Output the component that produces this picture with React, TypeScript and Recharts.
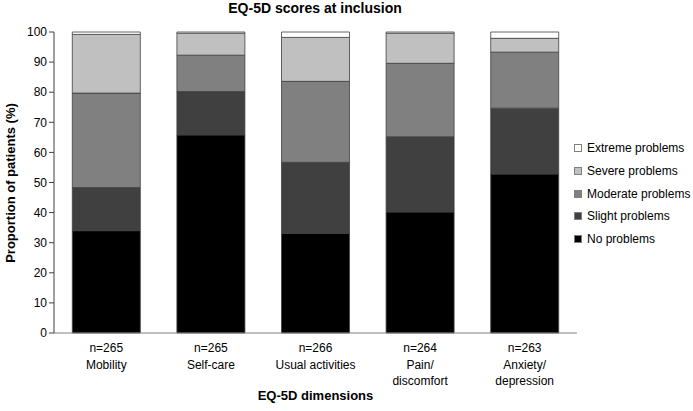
import React from "react";
import { BarChart, Bar, XAxis, YAxis } from "recharts";

const dimensions = ["Mobility", "Self-care", "Usual activities", "Pain/|discomfort", "Anxiety/|depression"];
const sampleSizes = [265, 265, 266, 264, 263];

const noProblems = [34.0, 65.8, 33.1, 40.2, 52.8];
const slightProblems = [14.3, 14.4, 23.6, 25.0, 21.9];
const moderateProblems = [31.4, 12.1, 26.9, 24.4, 18.6];
const severeProblems = [19.5, 7.3, 14.6, 10.0, 4.6];
const extremeProblems = [0.8, 0.4, 1.8, 0.4, 2.1];

const yTicks = [0, 10, 20, 30, 40, 50, 60, 70, 80, 90, 100];

const series = [
  { key: "none", name: "No problems", values: noProblems, color: "#000000" },
  { key: "slight", name: "Slight problems", values: slightProblems, color: "#404040" },
  { key: "moderate", name: "Moderate problems", values: moderateProblems, color: "#808080" },
  { key: "severe", name: "Severe problems", values: severeProblems, color: "#c0c0c0" },
  { key: "extreme", name: "Extreme problems", values: extremeProblems, color: "#ffffff" },
];

const font = "'Liberation Sans', Arial, sans-serif";

const data = dimensions.map((d, i) => {
  const row: Record<string, any> = { dim: d, n: sampleSizes[i] };
  series.forEach((s) => (row[s.key] = s.values[i]));
  return row;
});

function DimTick(props: any) {
  const { x, y, payload, index } = props;
  const lines = [`n=${sampleSizes[index]}`, ...String(payload.value).split("|")];
  return (
    <text x={x} y={y} textAnchor="middle" fontSize={12} fill="#000" fontFamily={font}>
      {lines.map((l, i) => (
        <tspan key={i} x={x} dy={i === 0 ? 11 : 16.5}>
          {l}
        </tspan>
      ))}
    </text>
  );
}

export default function App() {
  return (
    <div style={{ position: "absolute", left: 0, top: 0, width: 693, height: 411, background: "#fff", fontFamily: font }}>
      <div style={{ position: "absolute", left: 0, width: 630, top: 0, textAlign: "center", fontWeight: "bold", fontSize: 14, lineHeight: "17px" }}>
        EQ-5D scores at inclusion
      </div>
      <div
        style={{
          position: "absolute",
          left: 10,
          top: 183,
          fontWeight: "bold",
          fontSize: 13,
          whiteSpace: "nowrap",
          transform: "translate(-50%, -50%) rotate(-90deg)",
        }}
      >
        Proportion of patients (%)
      </div>
      <div style={{ position: "absolute", left: 54, width: 523, top: 388, textAlign: "center", fontWeight: "bold", fontSize: 13 }}>
        EQ-5D dimensions
      </div>
      <BarChart
        width={693}
        height={411}
        data={data}
        margin={{ top: 32, right: 116, bottom: 18, left: 10 }}
        barCategoryGap="17.5%"
      >
        <XAxis
          dataKey="dim"
          height={60}
          tickLine={false}
          axisLine={{ stroke: "#808080" }}
          tick={<DimTick />}
          interval={0}
        />
        <YAxis
          width={44}
          domain={[0, 100]}
          ticks={yTicks}
          interval={0}
          tickSize={5}
          axisLine={{ stroke: "#404040" }}
          tickLine={{ stroke: "#404040" }}
          tick={{ fontSize: 12, fill: "#000", fontFamily: font }}
        />
        {series.map((s) => (
          <Bar
            key={s.key}
            dataKey={s.key}
            name={s.name}
            stackId="a"
            fill={s.color}
            stroke="#404040"
            strokeWidth={0.8}
            isAnimationActive={false}
          />
        ))}
      </BarChart>
      <div style={{ position: "absolute", left: 574, top: 137 }}>
        {[...series].reverse().map((s) => (
          <div key={s.key} style={{ display: "flex", alignItems: "center", height: 22.7, fontSize: 12 }}>
            <span
              style={{
                display: "inline-block",
                width: 6,
                height: 6,
                background: s.color,
                border: "1px solid #808080",
                marginRight: 5,
              }}
            />
            {s.name}
          </div>
        ))}
      </div>
    </div>
  );
}
